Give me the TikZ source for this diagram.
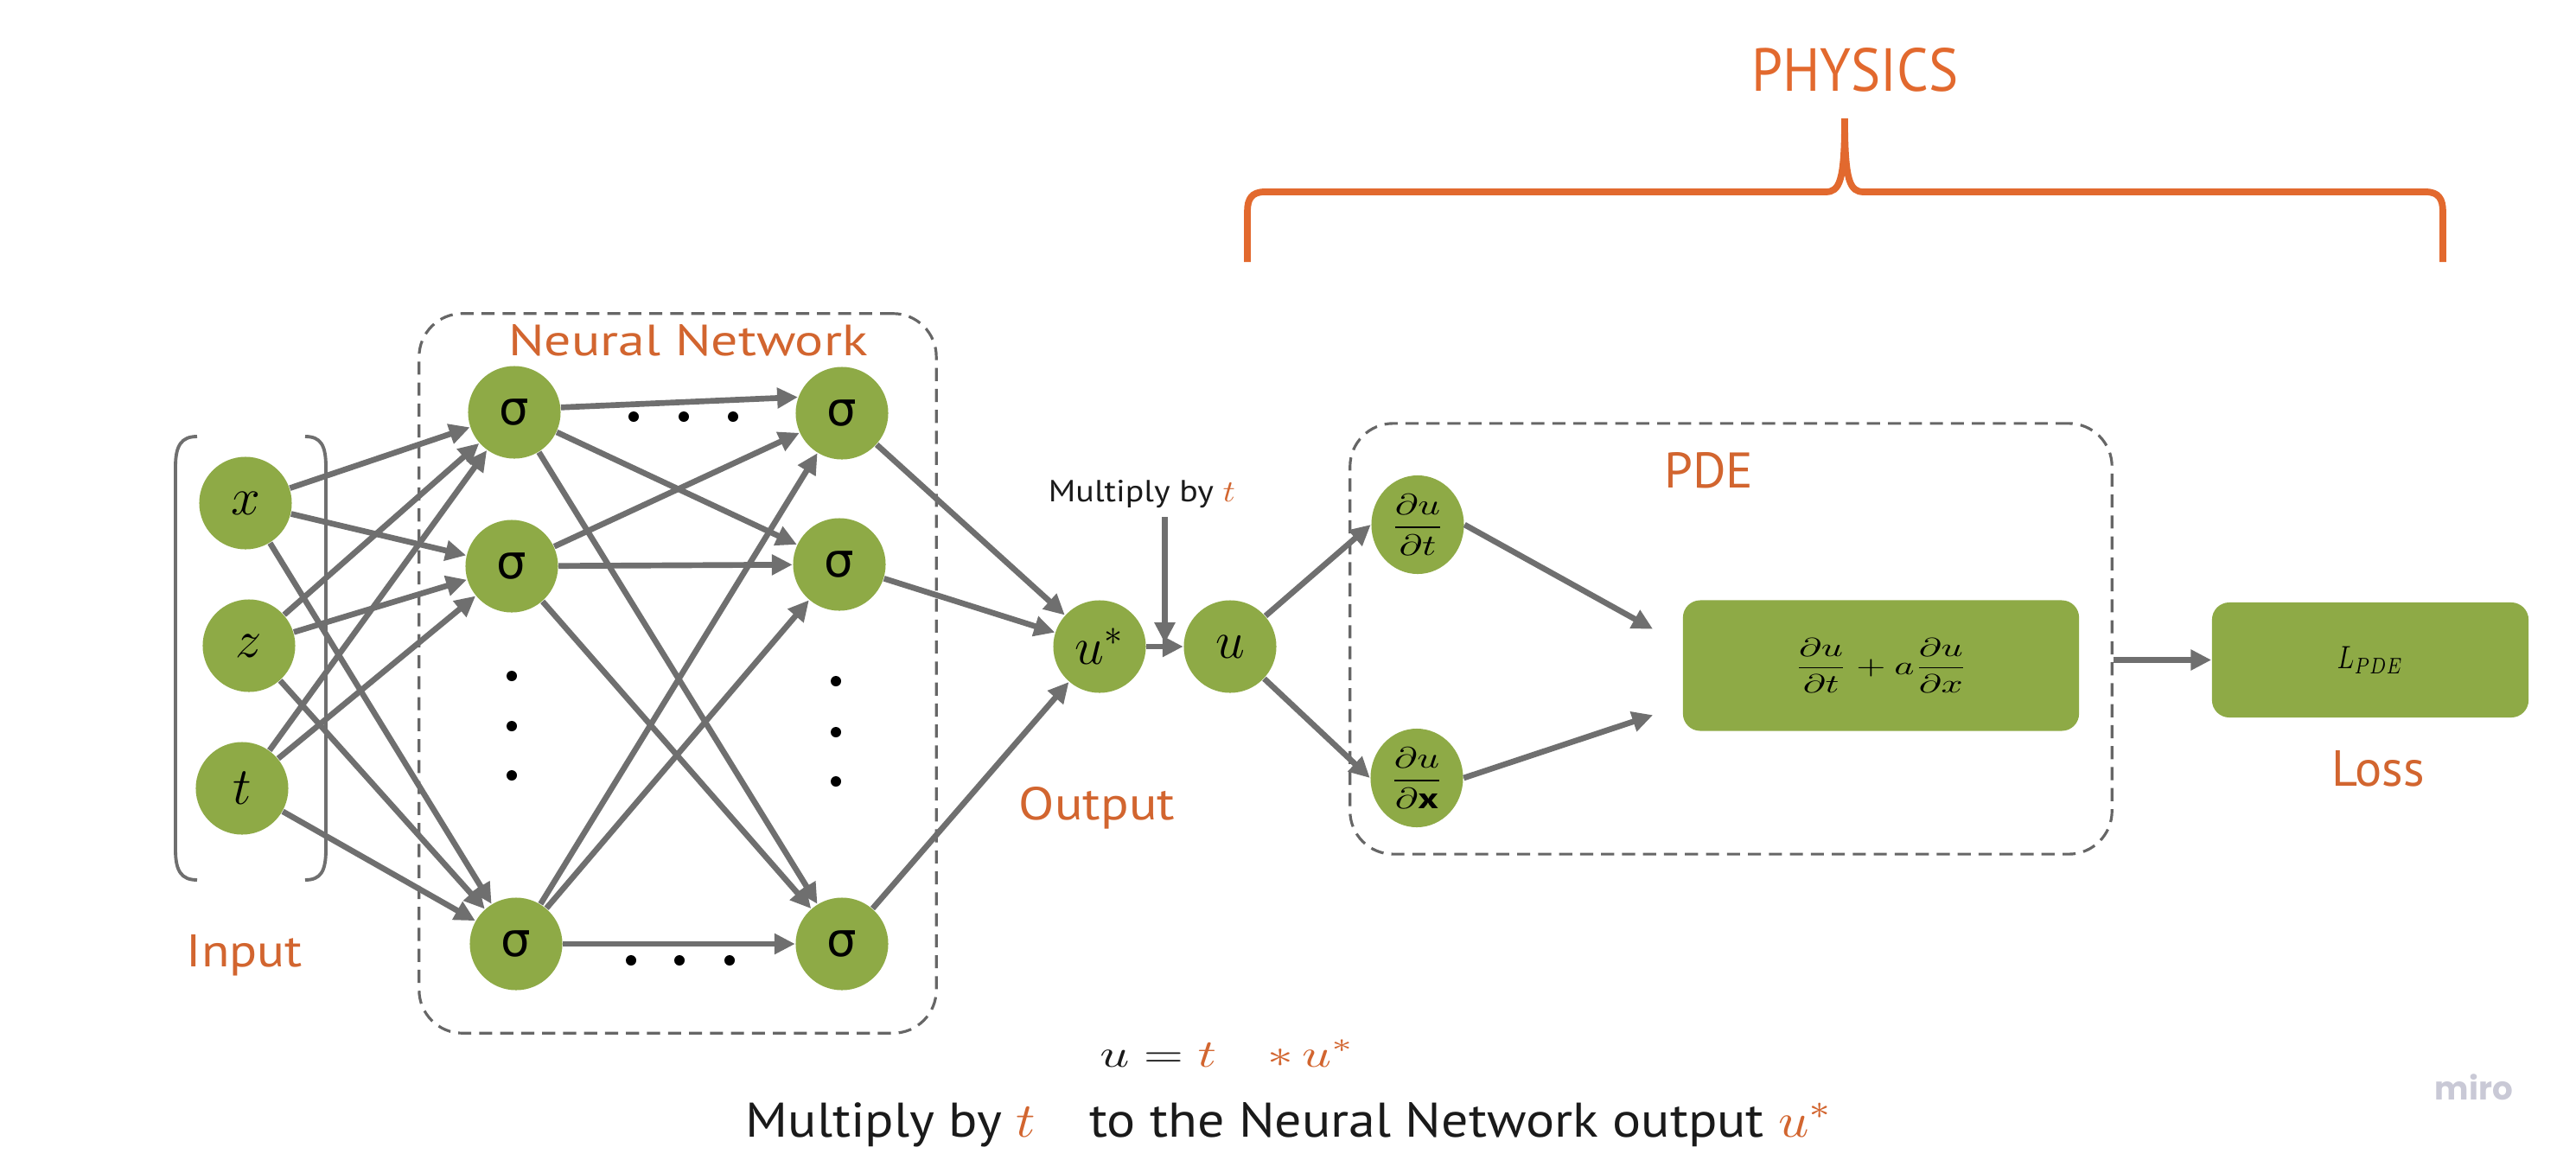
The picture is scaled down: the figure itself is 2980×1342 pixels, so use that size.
\documentclass[tikz,border=0pt]{standalone}
\usepackage{amsmath}
\usepackage{fontspec}
\setsansfont{PT Sans}
\newfontfamily\djv{DejaVu Sans}
\newfontfamily\mirofont{Poppins}
\usetikzlibrary{arrows.meta,calc,shapes.geometric}
\definecolor{nngreen}{HTML}{8EAA46}
\definecolor{arrowgray}{HTML}{6F6F6F}
\definecolor{boxgray}{HTML}{666666}
\definecolor{lblorange}{HTML}{D2652F}
\definecolor{braceorange}{HTML}{E2692E}
\definecolor{textblack}{HTML}{1A1A1A}
\definecolor{mirogray}{HTML}{C9C9D6}
\begin{document}
\begin{tikzpicture}[x=0.01cm,y=-0.01cm,
  neuron/.style={circle,fill=nngreen,minimum size=1.07cm,inner sep=0pt},
  varnode/.style={neuron,font=\fontsize{16}{16}\selectfont},
  signode/.style={neuron,font=\djv\fontsize{15.5}{16}\selectfont},
  unode/.style={neuron,font=\fontsize{17}{17}\selectfont},
  dnode/.style={ellipse,fill=nngreen,minimum width=1.07cm,minimum height=1.14cm,inner sep=0pt},
  gbox/.style={rectangle,fill=nngreen,rounded corners=0.2cm,inner sep=0pt},
  conn/.style={draw=arrowgray,line width=1.9pt,-{Triangle[length=6.8pt,width=6.5pt]}},
  dashbox/.style={draw=boxgray,line width=0.9pt,dash pattern=on 4.3pt off 2.6pt,rounded corners=0.5cm,inner sep=0pt},
  olabel/.style={text=lblorange,inner sep=0pt,anchor=base},
  blabel/.style={text=textblack,inner sep=0pt,anchor=base},
  bracketline/.style={draw=arrowgray,line width=1.1pt},
  bracestyle/.style={draw=braceorange,line width=2.2pt,line join=miter},
  dotmark/.style={fill=black}
]
\fill[white] (0,0) rectangle (2980,1342);
\useasboundingbox (0,0) rectangle (2980,1342);

% dashed group boxes
\node[dashbox,minimum width=5.98cm,minimum height=8.32cm] (nnbox) at (784,779) {};
\node[dashbox,minimum width=8.81cm,minimum height=4.98cm] (pdebox) at (2002.5,739) {};

% labels
\node[olabel] (lblnn) at (796,411) {\resizebox{4.15cm}{0.36cm}{\sffamily Neural Network}};
\node[olabel] (lblin) at (283,1118) {\resizebox{1.34cm}{0.37cm}{\sffamily Input}};
\node[olabel] (lblout) at (1269,948) {\resizebox{1.80cm}{0.38cm}{\sffamily Output}};
\node[olabel] (lblpde) at (1977,564) {\resizebox{1.03cm}{0.41cm}{\sffamily PDE}};
\node[olabel] (lblloss) at (2751,909) {\resizebox{1.07cm}{0.41cm}{\sffamily Loss}};
\node[text=braceorange,inner sep=0pt,anchor=base] (lblphys) at (2146,105) {\resizebox{2.39cm}{0.50cm}{\sffamily PHYSICS}};
\node[blabel] (lblmul) at (1321,580) {\resizebox{2.16cm}{0.25cm}{\sffamily Multiply by $\color{lblorange}t$}};
\node[blabel] (lbleq) at (1420,1234) {\resizebox{2.95cm}{0.31cm}{$u = {\color{lblorange}t\quad {*}\, u^{*}}$}};
\node[blabel] (lblbottom) at (1492,1315) {\resizebox{12.58cm}{0.40cm}{\sffamily Multiply by ${\color{lblorange}t}$\quad to the Neural Network output ${\color{lblorange}u^{*}}$}};
\node[text=mirogray,inner sep=0pt,anchor=base] (miro) at (2862,1272) {\resizebox{0.90cm}{!}{\mirofont\bfseries miro}};

% input bracket
\draw[bracketline] (228,505) .. controls (210,505) and (203,515) .. (203,540) -- (203,983) .. controls (203,1008) and (210,1018) .. (228,1018);
\draw[bracketline] (353,505) .. controls (371,505) and (377,515) .. (377,540) -- (377,983) .. controls (377,1008) and (371,1018) .. (353,1018);

% physics brace
\draw[bracestyle] (1443,303) -- (1443,245) .. controls (1443,230) and (1448,222) .. (1463,222) -- (2112,222) .. controls (2128,222) and (2134,210) .. (2134,137) .. controls (2134,210) and (2140,222) .. (2156,222) -- (2806,222) .. controls (2821,222) and (2826,230) .. (2826,245) -- (2826,303);

% input nodes
\node[varnode] (x) at (284,582) {$x$};
\node[varnode] (z) at (288,747) {$z$};
\node[varnode] (t) at (280,912) {$t$};

% hidden layers
\node[signode] (s1a) at (595,477) {σ};
\node[signode] (s1b) at (592,655) {σ};
\node[signode] (s1c) at (597,1092) {σ};
\node[signode] (s2a) at (974,478) {σ};
\node[signode] (s2b) at (971,653) {σ};
\node[signode] (s2c) at (974,1092) {σ};

% dots
\foreach \yy in {782,840,897} \fill[dotmark] (592,\yy) circle[radius=0.06cm];
\foreach \yy in {788,847,904} \fill[dotmark] (967,\yy) circle[radius=0.06cm];
\foreach \xx in {733,791,848} \fill[dotmark] (\xx,482) circle[radius=0.06cm];
\foreach \xx in {730,786,844} \fill[dotmark] (\xx,1111) circle[radius=0.06cm];

% output
\node[unode] (ustar) at (1272,748) {$u^{*}$};
\node[unode] (u) at (1423,748) {$u$};

% derivative nodes
\node[dnode] (dudt) at (1640,607) {\resizebox*{0.63cm}{0.70cm}{$\dfrac{\partial u}{\partial t}$}};
\node[dnode] (dudx) at (1639,900) {\resizebox*{0.63cm}{0.70cm}{$\dfrac{\partial u}{\partial \text{\sffamily\bfseries x}}$}};

% boxes
\node[gbox,minimum width=4.58cm,minimum height=1.51cm] (pdeeq) at (2176,770) {\resizebox*{2.0cm}{0.62cm}{$\dfrac{\partial u}{\partial t}+a\dfrac{\partial u}{\partial x}$}};
\node[gbox,minimum width=3.66cm,minimum height=1.33cm] (lbox) at (2742,763.5) {\resizebox*{0.76cm}{0.31cm}{$L_{PDE}$}};

% connectors input -> layer 1
\foreach \a in {x,z,t}{
  \foreach \b in {s1a,s1b,s1c}{
    \draw[conn] (\a) -- (\b);
  }
}
% layer 1 -> layer 2
\draw[conn] (s1a.6) -- (s2a.160);
\draw[conn] (s1a) -- (s2b);
\draw[conn] (s1a) -- (s2c);
\draw[conn] (s1b) -- (s2a);
\draw[conn] (s1b) -- (s2b);
\draw[conn] (s1b) -- (s2c);
\draw[conn] (s1c) -- (s2a);
\draw[conn] (s1c) -- (s2b);
\draw[conn] (s1c) -- (s2c);
% layer 2 -> output
\draw[conn] (s2a) -- (ustar);
\draw[conn] (s2b) -- (ustar);
\draw[conn] (s2c) -- (ustar);
% output chain
\draw[conn] (ustar) -- (u);
\coordinate (mulmid) at ($(ustar)!0.5!(u)$);
\coordinate (multop) at ($(mulmid)+(0,-150)$);
\draw[conn] (multop) -- ($(mulmid)+(0,-4)$);
\draw[conn] (u) -- (dudt.west);
\draw[conn] (u) -- (dudx.west);
\coordinate (eqinA) at ($(pdeeq.north west)+(-34,34)$);
\coordinate (eqinB) at ($(pdeeq.south west)+(-34,-19)$);
\draw[conn] (dudt.east) -- (eqinA);
\draw[conn] (dudx.east) -- (eqinB);
\draw[conn] (pdebox.east |- lbox.west) -- (lbox.west);
\end{tikzpicture}
\end{document}
